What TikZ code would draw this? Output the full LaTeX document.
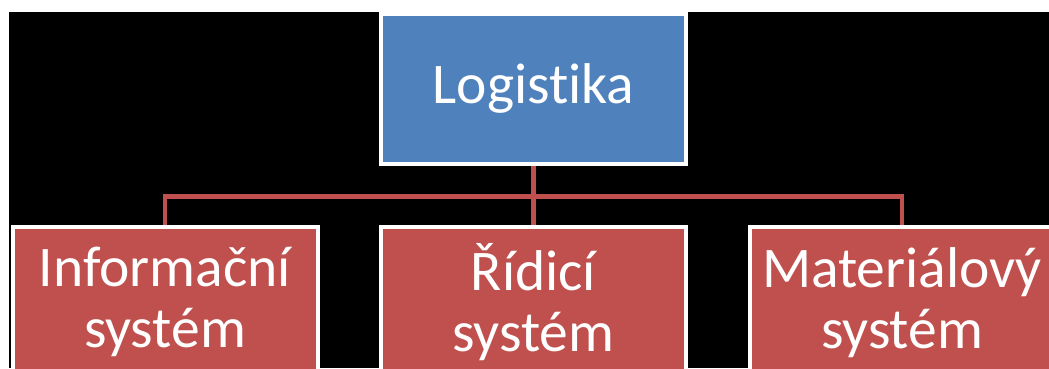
\documentclass[tikz,border=0pt]{standalone}
\usepackage{fontspec}
\setmainfont{Carlito}[Ligatures=NoCommon]
\definecolor{accentblue}{HTML}{4F81BD}
\definecolor{accentred}{HTML}{C0504D}
\begin{document}
\begin{tikzpicture}[x=1pt,y=-1pt,
  box/.style={rectangle, draw=white, line width=4pt, minimum width=305pt,
    minimum height=150pt, inner sep=0pt, text=white, align=center,
    font=\fontsize{57.5}{61}\selectfont},
  rootbox/.style={box, fill=accentblue},
  childbox/.style={box, fill=accentred},
  link/.style={draw=accentred, line width=4.5pt}]
\useasboundingbox (0,0) rectangle (1049,368);
\clip (0,0) rectangle (1049,368);
% page margin and dark slide area
\fill[white] (0,0) rectangle (1049,368);
\fill[black] (8.5,11.7) rectangle (1049,368);

% hierarchy boxes
\node[rootbox]  (root) at (533.5,88.75)  {Logistika};
\node[childbox] (info) at (165,302.25)   {Informační\\systém};
\node[childbox] (ridi) at (533.5,302.25) {Řídicí\\systém};
\node[childbox] (mat)  at (902,302.25)   {Materiálový\\systém};

% connectors
\coordinate (bus) at (533.5,196.5);
\draw[link] (root.south) -- (ridi.north);
\draw[link] (info.north) |- (bus);
\draw[link] (mat.north) |- (bus);
\end{tikzpicture}
\end{document}
